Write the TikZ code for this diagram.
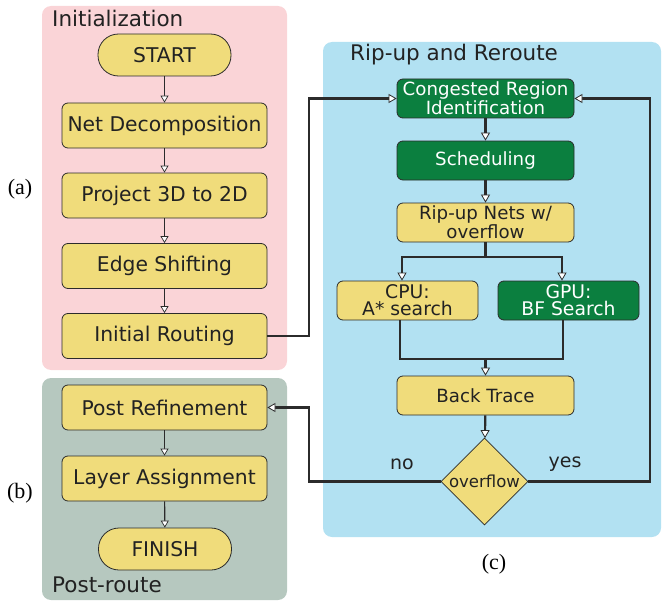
\documentclass[tikz,border=0pt]{standalone}
\usepackage{fontspec}
\setmainfont{DejaVu Sans}
\newfontfamily\capfont{Liberation Serif}
\usepackage{xcolor}
\usepackage{tikz}
\usetikzlibrary{positioning}
\usetikzlibrary{shapes.geometric}
\usetikzlibrary{arrows.meta}
\pgfdeclarelayer{panellayer}
\pgfdeclarelayer{nodelayer}
\pgfdeclarelayer{edgelayer}
\pgfsetlayers{panellayer,nodelayer,edgelayer,main}
\definecolor{initpink}{HTML}{FAD4D7}
\definecolor{postgray}{HTML}{B6C8BF}
\definecolor{ripblue}{HTML}{B2E1F2}
\definecolor{stageyellow}{HTML}{F0DC7B}
\definecolor{gpugreen}{HTML}{0B7F3F}
\definecolor{edgedark}{HTML}{2B2B2B}
\definecolor{textdark}{HTML}{222222}
\tikzset{
    none/.style = {inner sep=0pt},
    panel/.style = {rounded corners=9pt},
    title/.style = {inner sep=0pt, anchor=base west, text=textdark, font=\fontsize{21.5}{24}\selectfont},
    tag/.style = {inner sep=0pt, text=black, font=\capfont\fontsize{22}{24}\selectfont},
    stage/.style = {draw=edgedark, fill=stageyellow, text=textdark, rounded corners=6pt,
        line width=0.8pt, minimum width=205pt, minimum height=45pt, inner sep=0pt,
        font=\fontsize{20.3}{22}\selectfont},
    terminal/.style = {stage, rounded corners=20.5pt, minimum width=133pt, minimum height=42pt},
    task/.style = {stage, minimum width=177pt, minimum height=39pt, align=center,
        font=\fontsize{18.2}{16}\selectfont},
    kernel/.style = {task, fill=gpugreen, text=white},
    search/.style = {task, minimum width=141pt, font=\fontsize{18.8}{17}\selectfont},
    check/.style = {stage, shape=diamond, rounded corners=0pt, minimum width=87pt,
        minimum height=87pt, font=\fontsize{16.5}{18}\selectfont},
    answer/.style = {inner sep=0pt, text=textdark, font=\fontsize{19}{21}\selectfont},
    thin flow/.style = {draw=edgedark, line width=1.1pt,
        -{Triangle[fill=white, length=7pt, width=8pt, line width=0.7pt]}},
    thick flow/.style = {draw=edgedark, line width=2.2pt,
        -{Triangle[fill=white, length=8pt, width=9pt, line width=0.8pt]}},
    thick line/.style = {draw=edgedark, line width=2.2pt}
}

\begin{document}
\begin{tikzpicture}[x=1pt, y=-1pt]
  \useasboundingbox (0, 0) rectangle (662, 602);
  \begin{pgfonlayer}{panellayer}
    \fill [style=panel, initpink] (42, 6) rectangle (287, 370);
    \fill [style=panel, postgray] (42, 378) rectangle (287, 600);
    \fill [style=panel, ripblue] (323, 42) rectangle (661, 537);
  \end{pgfonlayer}
  \begin{pgfonlayer}{nodelayer}
    % left column
    \node [style=title] (30) at (52, 27) {Initialization};
    \node [style=title] (31) at (52, 592) {Post-route};
    \node [style=terminal] (0) at (164.5, 55) {START};
    \node [style=stage] (1) at (164.5, 125.5) {Net Decomposition};
    \node [style=stage] (2) at (164.5, 195.5) {Project 3D to 2D};
    \node [style=stage] (3) at (164.5, 266) {Edge Shifting};
    \node [style=stage] (4) at (164.5, 336) {Initial Routing};
    \node [style=stage] (5) at (164.5, 407.5) {Post Refinement};
    \node [style=stage] (6) at (164.5, 478.5) {Layer Assignment};
    \node [style=terminal] (7) at (165, 549) {FINISH};
    % right column
    \node [style=title] (32) at (350, 61) {Rip-up and Reroute};
    \node [style=kernel] (8) at (485.5, 98.5) {Congested Region\\Identification};
    \node [style=kernel] (9) at (485.5, 160.5) {Scheduling};
    \node [style=task] (10) at (485.5, 222.5) {Rip-up Nets w/\\overflow};
    \node [style=search] (11) at (407.5, 300.5) {CPU:\\A* search};
    \node [style=search, fill=gpugreen, text=white] (12) at (568.5, 300.5) {GPU:\\BF Search};
    \node [style=task] (13) at (485.5, 395.5) {Back Trace};
    \node [style=check] (14) at (484.5, 481.5) {overflow};
    \node [style=answer] (33) at (402, 464) {no};
    \node [style=answer] (34) at (565, 464) {yes};
    % captions
    \node [style=tag] (35) at (20, 189) {(a)};
    \node [style=tag] (36) at (20, 493) {(b)};
    \node [style=tag] (37) at (494, 564) {(c)};
    % bends
    \node [style=none] (20) at (309, 336) {};
    \node [style=none] (21) at (309, 98.5) {};
    \node [style=none] (22) at (485.5, 257) {};
    \node [style=none] (23) at (402, 257) {};
    \node [style=none] (24) at (562, 257) {};
    \node [style=none] (25) at (400, 359) {};
    \node [style=none] (26) at (563, 359) {};
    \node [style=none] (27) at (485.5, 359) {};
    \node [style=none] (28) at (650, 481.5) {};
    \node [style=none] (29) at (650, 98.5) {};
    \node [style=none] (38) at (309, 481.5) {};
    \node [style=none] (39) at (309, 407.5) {};
  \end{pgfonlayer}
  \begin{pgfonlayer}{edgelayer}
    \draw [style=thin flow] (0) to (1);
    \draw [style=thin flow] (1) to (2);
    \draw [style=thin flow] (2) to (3);
    \draw [style=thin flow] (3) to (4);
    \draw [style=thin flow] (5) to (6);
    \draw [style=thin flow] (6) to (7);
    \draw [style=thick flow] (4) to (20.center) to (21.center) to (8);
    \draw [style=thick flow] (8) to (9);
    \draw [style=thick flow] (9) to (10);
    \draw [style=thick line] (10) to (22.center);
    \draw [style=thick flow] (22.center) to (23.center) to (23.center |- 11.north);
    \draw [style=thick flow] (22.center) to (24.center) to (24.center |- 12.north);
    \draw [style=thick line] (25.center |- 11.south) to (25.center) to (26.center) to (26.center |- 12.south);
    \draw [style=thick flow] (27.center) to (13);
    \draw [style=thick flow] (13) to (14);
    \draw [style=thick flow] (14) to (28.center) to (29.center) to (8);
    \draw [style=thick flow] (14) to (38.center) to (39.center) to (5);
  \end{pgfonlayer}
\end{tikzpicture}
\end{document}
